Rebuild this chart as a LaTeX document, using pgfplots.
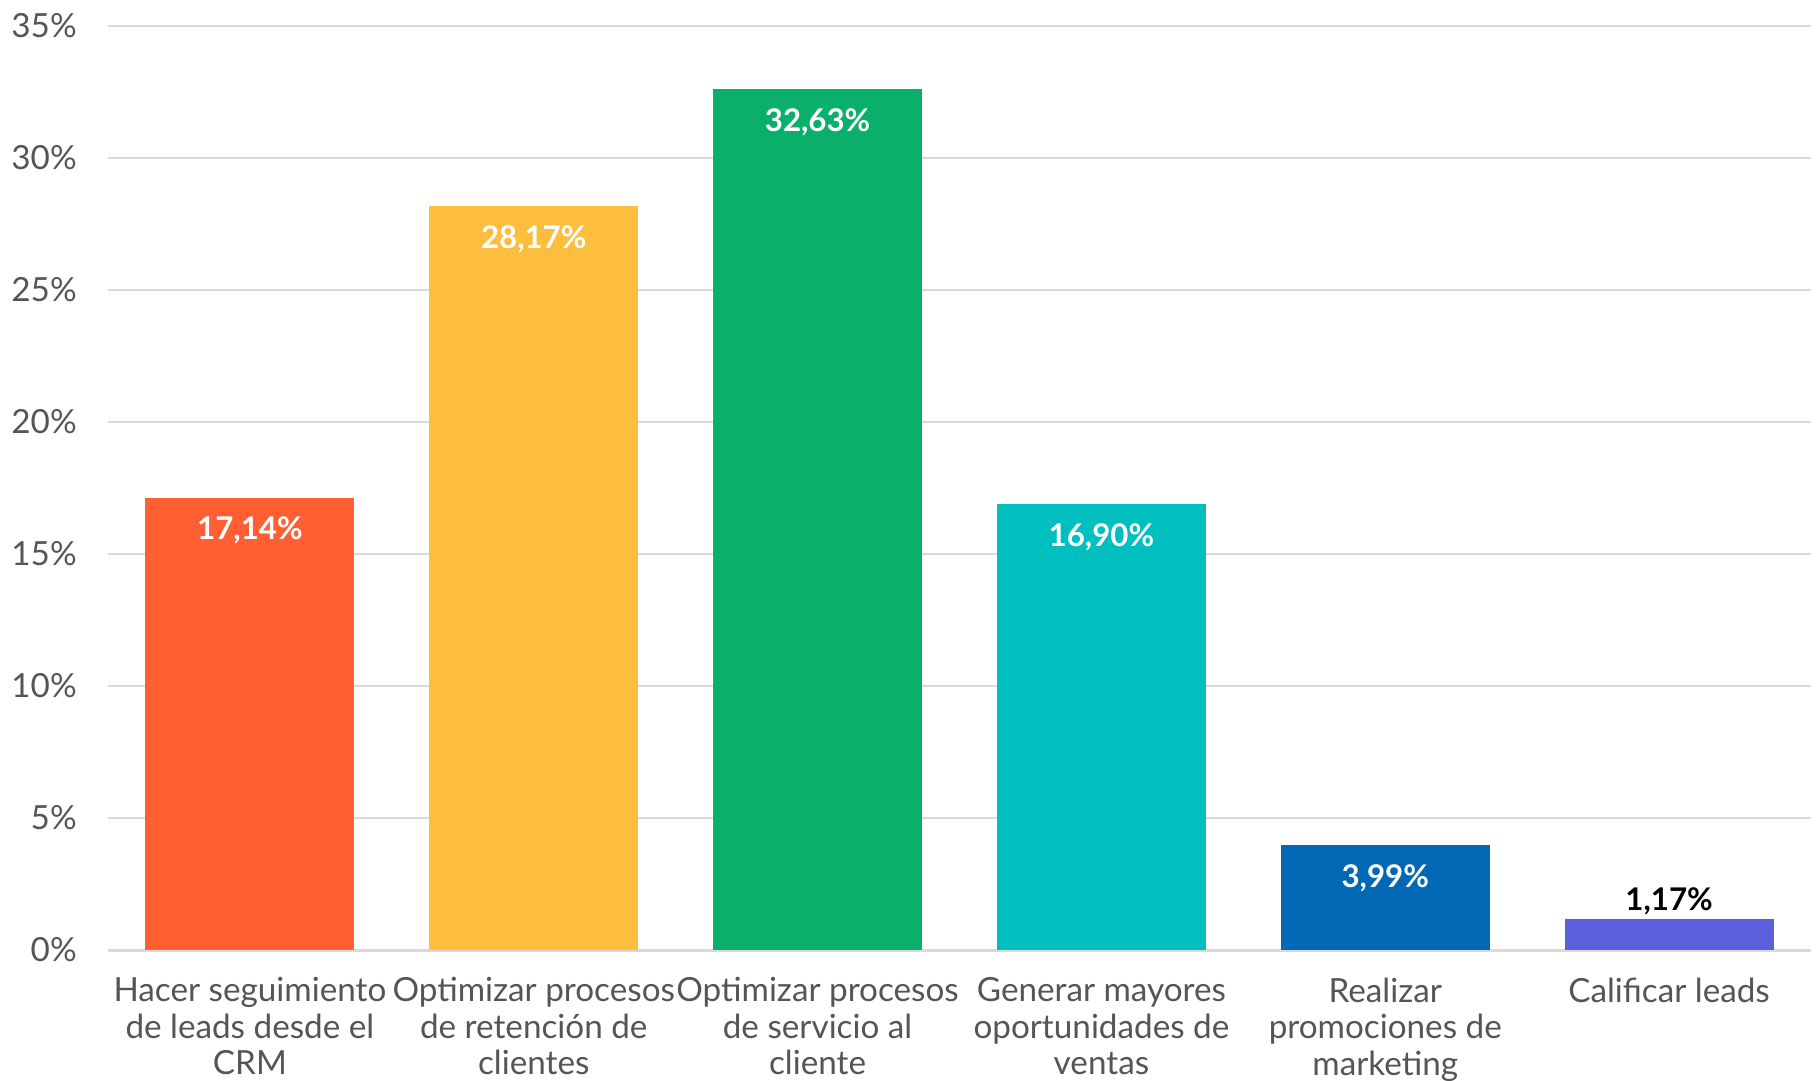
\documentclass[border=0pt]{standalone}
\usepackage{pgfplots}
\pgfplotsset{compat=1.18}
\usepackage{fontspec}
\setmainfont{Lato}
\definecolor{txt}{HTML}{555555}
\definecolor{gridc}{HTML}{D9D9D9}
\definecolor{c1}{HTML}{FF5F33}
\definecolor{c2}{HTML}{FDBD3F}
\definecolor{c3}{HTML}{0AAF6A}
\definecolor{c4}{HTML}{00C0BF}
\definecolor{c5}{HTML}{0068B5}
\definecolor{c6}{HTML}{5B5FDB}
\begin{document}
\begin{tikzpicture}
\useasboundingbox (-43.2pt,-52pt) rectangle (684pt,380pt);
\begin{axis}[
  at={(0,0)}, anchor=south west,
  scale only axis, width=681.2pt, height=369.6pt,
  xmin=-0.5, xmax=5.5, ymin=0, ymax=35,
  ytick={0,5,...,35},
  yticklabel={\pgfmathprintnumber{\tick}\%},
  /pgf/number format/assume math mode=true,
  ymajorgrids, xmajorgrids=false, grid style={draw=gridc, line width=0.9pt},
  axis line style={draw=none},
  major tick length=0pt,
  xtick={0,...,5},
  xticklabels={{Hacer seguimiento\\de leads desde el\\CRM},
    {Optimizar procesos\\de retención de\\clientes},
    {Optimizar procesos\\de servicio al\\cliente},
    {Generar mayores\\oportunidades de\\ventas},
    {Realizar\\promociones de\\marketing},
    {Calificar leads}},
  xticklabel style={align=center, anchor=north, yshift=-7.5pt, font=\fontsize{13.3}{14.6}\selectfont, text=txt},
  yticklabel style={font=\fontsize{13.3}{14.6}\selectfont, text=txt, anchor=east, xshift=-9pt},
  bar width=83.6pt,
  point meta=explicit symbolic,
  nodes near coords,
  every node near coord/.append style={font=\bfseries\fontsize{12.5}{14}\selectfont, anchor=center, yshift=-13.3pt, text=white},
  clip=false,
]
\draw[gridc, line width=1.2pt] (axis cs:-0.5,0) -- (axis cs:5.5,0);
\addplot[ybar, bar shift=0pt, fill=c1, draw=none] coordinates {(0,17.14) [17,14\%]};
\addplot[ybar, bar shift=0pt, fill=c2, draw=none] coordinates {(1,28.17) [28,17\%]};
\addplot[ybar, bar shift=0pt, fill=c3, draw=none] coordinates {(2,32.63) [32,63\%]};
\addplot[ybar, bar shift=0pt, fill=c4, draw=none] coordinates {(3,16.90) [16,90\%]};
\addplot[ybar, bar shift=0pt, fill=c5, draw=none] coordinates {(4,3.99) [3,99\%]};
\addplot[ybar, bar shift=0pt, fill=c6, draw=none, every node near coord/.append style={text=black, yshift=20.3pt}] coordinates {(5,1.17) [1,17\%]};
\end{axis}
\end{tikzpicture}
\end{document}
